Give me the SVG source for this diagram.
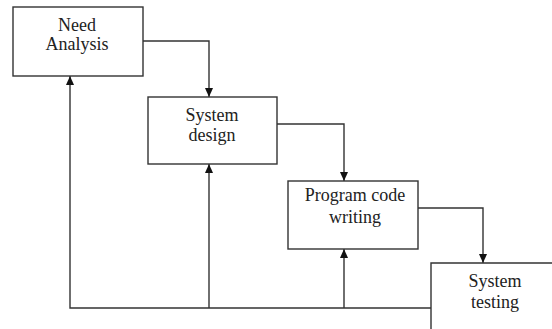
<svg xmlns="http://www.w3.org/2000/svg" width="552" height="329" viewBox="0 0 552 329">
<style>
.box{fill:#fff;stroke:#333;stroke-width:1.4}
.ln{fill:none;stroke:#333;stroke-width:1.4}
.t{font-family:'Liberation Serif','Times New Roman','DejaVu Serif',serif;font-size:18px;fill:#222;text-anchor:middle}
</style>
<defs>
<marker id="ah" markerWidth="10" markerHeight="10" refX="9" refY="5" orient="auto" markerUnits="userSpaceOnUse">
<path d="M0,1 L9,5 L0,9 Z" fill="#111"/>
</marker>
</defs>
<rect width="552" height="329" fill="#fff"/>
<g id="connectors">
<path class="ln" d="M143,41 H209 V97" marker-end="url(#ah)"/>
<path class="ln" d="M277,124 H344 V181" marker-end="url(#ah)"/>
<path class="ln" d="M418,208 H483 V263" marker-end="url(#ah)"/>
<path class="ln" d="M431,308 H70 V76" marker-end="url(#ah)"/>
<path class="ln" d="M209,308 V164" marker-end="url(#ah)"/>
<path class="ln" d="M344,308 V249" marker-end="url(#ah)"/>
</g>
<g id="need-analysis">
<rect class="box" x="13" y="7" width="130" height="69"/>
<text class="t" x="77" y="31">Need</text>
<text class="t" x="77" y="50">Analysis</text>
</g>
<g id="system-design">
<rect class="box" x="148" y="97" width="129" height="67"/>
<text class="t" x="212" y="121">System</text>
<text class="t" x="212" y="141">design</text>
</g>
<g id="program-code-writing">
<rect class="box" x="288" y="181" width="130" height="68"/>
<text class="t" x="355" y="201">Program code</text>
<text class="t" x="355" y="223">writing</text>
</g>
<g id="system-testing">
<path class="box" d="M431,330 V263 H553"/>
<text class="t" x="495" y="287">System</text>
<text class="t" x="495" y="308">testing</text>
</g>
</svg>
